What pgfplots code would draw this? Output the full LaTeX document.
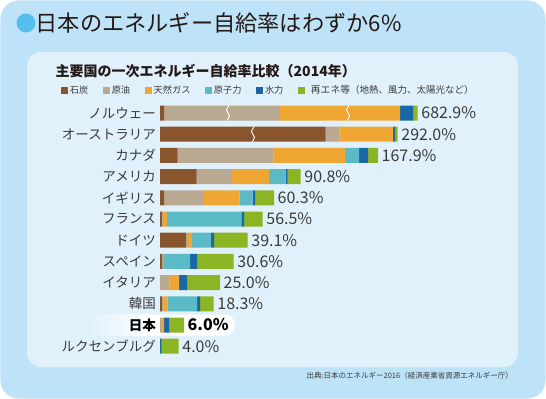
\documentclass[border=0pt]{standalone}
\usepackage{fontspec}
\setmainfont{Noto Sans CJK JP}
\usepackage{pgfplots}
\pgfplotsset{compat=1.18}
\definecolor{cbrown}{HTML}{88552D}
\definecolor{ctan}{HTML}{B9A993}
\definecolor{corange}{HTML}{EFA633}
\definecolor{cteal}{HTML}{5ABAC5}
\definecolor{cblue}{HTML}{1A67A8}
\definecolor{cgreen}{HTML}{8CB525}
\definecolor{outerblue}{HTML}{BEE3F8}
\definecolor{panel}{HTML}{E1F1FB}
\definecolor{dot}{HTML}{56BEEC}
\definecolor{ink}{HTML}{231815}
\definecolor{txt}{HTML}{3A3A3A}
\begin{document}
\begin{tikzpicture}
% background
\fill[white] (0,0) rectangle (546bp,-399bp);
\fill[outerblue, rounded corners=18bp] (0.5bp,-0.5bp) rectangle (545.5bp,-398.5bp);
\fill[panel, rounded corners=14bp] (27bp,-52bp) rectangle (518bp,-367bp);
% title
\fill[dot] (26bp,-23bp) circle (9.5bp);
\node[anchor=west, inner sep=0pt, text=ink, font=\fontsize{22.2bp}{24bp}\selectfont] at (35.5bp,-23bp) {日本のエネルギー自給率はわずか6\%};
% subtitle
\node[anchor=west, inner sep=0pt, text=ink, font=\fontsize{14bp}{16bp}\selectfont\bfseries] at (55.5bp,-71bp) {主要国の一次エネルギー自給率比較（2014年）};
% Japan highlight
\fill[white, rounded corners=10.5bp] (140bp,-314.5bp) rectangle (235bp,-335.5bp);
\shade[left color=panel, right color=white] (90bp,-314.5bp) rectangle (150bp,-335.5bp);
% source
\node[anchor=east, inner sep=0pt, text=txt, font=\fontsize{7.5bp}{9bp}\selectfont] at (513bp,-376bp) {出典:日本のエネルギー2016（経済産業省資源エネルギー庁）};

\begin{axis}[
  at={(160bp,-102.4bp)}, anchor=north west,
  x=1bp, y=21.2bp, y dir=reverse,
  xmin=0, xmax=320, ymin=-0.5, ymax=11.5,
  clip=false,
  xbar stacked, bar width=15bp,
  axis line style={draw=none},
  major tick length=0pt,
  xtick=\empty,
  ytick={0,...,11},
  yticklabels={ノルウェー,オーストラリア,カナダ,アメリカ,イギリス,フランス,ドイツ,スペイン,イタリア,韓国,{\color{black}\bfseries 日本},ルクセンブルグ},
  yticklabel style={font=\fontsize{13.5bp}{15bp}\selectfont, text=txt, inner sep=0pt, xshift=-4bp},
  legend style={draw=none, fill=none, inner sep=0pt, legend columns=-1,
    at={(axis description cs:-0.3103,1.0487)}, anchor=west,
    font=\fontsize{9.2bp}{10bp}\selectfont, text=txt,
    /tikz/every even column/.append style={column sep=12.5bp}},
  legend image code/.code={\fill[#1] (0bp,-3.5bp) rectangle (7bp,3.5bp);},
]
\addplot[fill=cbrown, draw=none] coordinates {(4.3,0) (165.7,1) (17.7,2) (36.7,3) (4,4) (2,5) (26,6) (2,7) (0,8) (2,9) (0,10) (0,11)};
\addlegendentry{石炭}
\addplot[fill=ctan, draw=none] coordinates {(114.7,0) (14,1) (95.6,2) (35.3,3) (39,4) (0.7,5) (2,6) (2,7) (9.7,8) (1.7,9) (2,10) (0,11)};
\addlegendentry{原油}
\addplot[fill=corange, draw=none] coordinates {(121,0) (53.3,1) (71.7,2) (37,3) (36.7,4) (4.3,5) (4,6) (0,7) (9.3,8) (4,9) (2,10) (0,11)};
\addlegendentry{天然ガス}
\addplot[fill=cteal, draw=none] coordinates {(0,0) (0,1) (14,2) (16.7,3) (13,4) (74.3,5) (19,6) (26,7) (0,8) (29.3,9) (0,10) (0,11)};
\addlegendentry{原子力}
\addplot[fill=cblue, draw=none] coordinates {(13,0) (2,1) (9,2) (2,3) (2.3,4) (2.7,5) (3,6) (7,7) (8,8) (3,9) (5,10) (1.7,11)};
\addlegendentry{水力}
\addplot[fill=cgreen, draw=none,
  nodes near coords, point meta=explicit symbolic,
  visualization depends on=rawx \as \segw,
  every node near coord/.append style={anchor=west, inner sep=0pt, xshift={\segw*0.5bp+3.5bp}, text=txt, font=\fontsize{16bp}{18bp}\selectfont}]
  coordinates {(4.7,0) [682.9\%] (2.7,1) [292.0\%] (10,2) [167.9\%] (13,3) [90.8\%] (19,4) [60.3\%] (18.7,5) [56.5\%] (33.7,6) [39.1\%] (36.7,7) [30.6\%] (33,8) [25.0\%] (13.7,9) [18.3\%] (15,10) [{\color{black}\bfseries 6.0\%}] (17,11) [4.0\%]};
\addlegendentry{\hspace{4bp}{\fontsize{9.8bp}{10bp}\selectfont 再エネ等}{\fontsize{9.5bp}{10bp}\selectfont （地熱、風力、太陽光など）}}
\end{axis}

% break marks
\foreach \x/\yc in {228/113, 348/113, 253/134.5} {
  \draw[white, line width=0.9bp] (\x bp+0.8bp,-\yc bp+7.5bp) to[out=-100,in=90] (\x bp-1.5bp,-\yc bp+3bp) to[out=-90,in=90] (\x bp+1.5bp,-\yc bp-3bp) to[out=-90,in=80] (\x bp-0.8bp,-\yc bp-7.5bp);
}
\end{tikzpicture}
\end{document}
